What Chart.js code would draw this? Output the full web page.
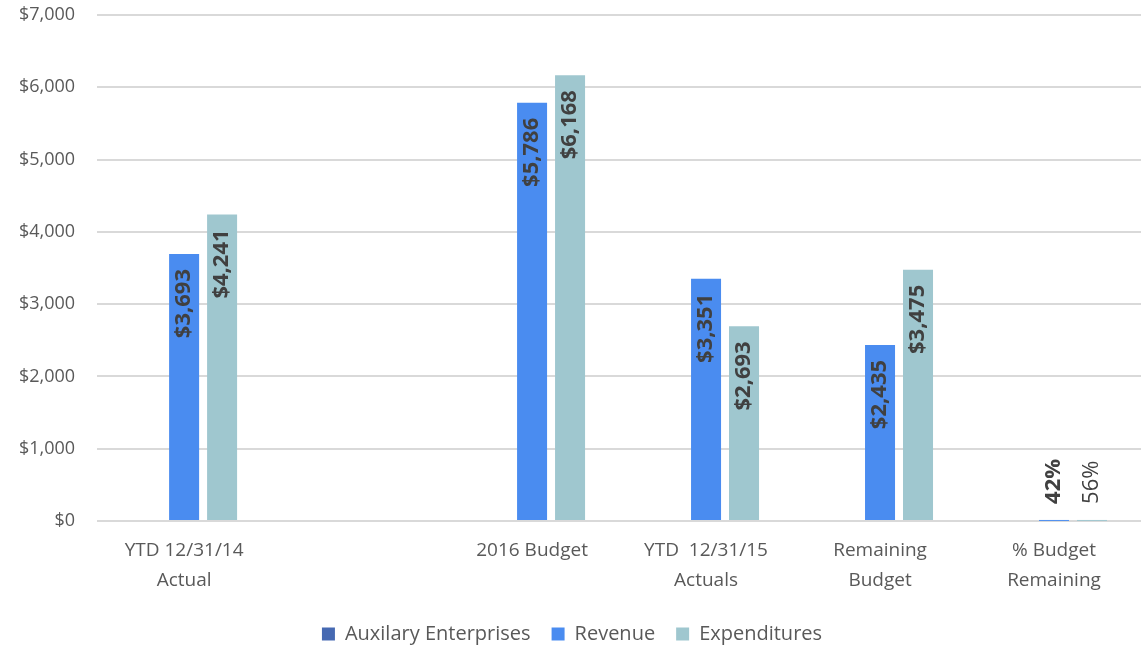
<!DOCTYPE html>
<html>
<head>
<meta charset="utf-8">
<script src="https://cdn.jsdelivr.net/npm/chart.js@4.4.1/dist/chart.umd.min.js"></script>
<style>
  body { margin: 0; background: #fff; }
  #wrap { width: 1141px; height: 650px; }
</style>
</head>
<body>
<div id="wrap"><canvas id="budgetChart" width="1141" height="650"></canvas></div>
<script>
var categories = [['YTD 12/31/14', 'Actual'], '', '2016 Budget', ['YTD  12/31/15', 'Actuals'], ['Remaining', 'Budget'], ['% Budget', 'Remaining']];
var auxilary = [null, null, null, null, null, null];
var revenue = [3693, null, 5786, 3351, 2435, 0.42];
var expenditures = [4241, null, 6168, 2693, 3475, 0.56];

var fontFamily = "'Open Sans', sans-serif";
var textColor = '#595959';

function fmtLabel(v) {
    if (v < 1) return Math.round(v * 100) + '%';
    return '$' + v.toLocaleString('en-US');
}

// rotated value labels at the inside end of each bar
var barLabels = {
    id: 'barLabels',
    afterDatasetsDraw: function(chart) {
        var ctx = chart.ctx;
        chart.data.datasets.forEach(function(ds, i) {
            if (ds.label === 'Auxilary Enterprises') return;
            var meta = chart.getDatasetMeta(i);
            meta.data.forEach(function(bar, j) {
                var v = ds.data[j];
                if (v === null || v === undefined) return;
                var txt = fmtLabel(v);
                ctx.save();
                ctx.fillStyle = '#404040';
                var bold = !(v < 1 && ds.label === 'Expenditures');
                ctx.font = (bold ? 'bold ' : '') + '22px ' + fontFamily;
                ctx.textBaseline = 'middle';
                var w = ctx.measureText(txt).width;
                var h = bar.base - bar.y;
                if (h > w + 20) {
                    ctx.translate(bar.x, bar.y + 15);
                    ctx.rotate(-Math.PI / 2);
                    ctx.textAlign = 'right';
                } else {
                    ctx.translate(bar.x, bar.y - 17);
                    ctx.rotate(-Math.PI / 2);
                    ctx.textAlign = 'left';
                }
                ctx.fillText(txt, 0, 0);
                ctx.restore();
            });
        });
    }
};

new Chart(document.getElementById('budgetChart').getContext('2d'), {
    type: 'bar',
    data: {
        labels: categories,
        datasets: [
            { label: 'Auxilary Enterprises', data: auxilary, backgroundColor: '#4669b2' },
            { label: 'Revenue', data: revenue, backgroundColor: '#4a8cf0' },
            { label: 'Expenditures', data: expenditures, backgroundColor: '#9fc7cf' }
        ]
    },
    options: {
        responsive: false,
        animation: false,
        categoryPercentage: 0.655,
        barPercentage: 0.79,
        layout: { padding: { left: -3, right: -6, top: 15, bottom: -4 } },
        plugins: {
            legend: {
                position: 'bottom',
                labels: {
                    color: textColor,
                    font: { family: fontFamily, size: 20 },
                    boxWidth: 13,
                    boxHeight: 13,
                    padding: 21
                }
            },
            tooltip: { enabled: false }
        },
        scales: {
            x: {
                grid: { display: false },
                border: { display: false },
                ticks: {
                    color: textColor,
                    font: { family: fontFamily, size: 19, lineHeight: 1.58 },
                    maxRotation: 0,
                    autoSkip: false,
                    padding: 7
                }
            },
            y: {
                min: 0,
                max: 7000,
                border: { display: false },
                grid: { color: '#d9d9d9', lineWidth: 2, drawTicks: false },
                afterFit: function(scale) {
                    scale.paddingTop = 0;
                    scale.paddingBottom = 0;
                },
                ticks: {
                    stepSize: 1000,
                    color: textColor,
                    font: { family: fontFamily, size: 18 },
                    padding: 22,
                    callback: function(v) { return '$' + v.toLocaleString('en-US'); }
                }
            }
        }
    },
    plugins: [barLabels]
});
</script>
</body>
</html>
